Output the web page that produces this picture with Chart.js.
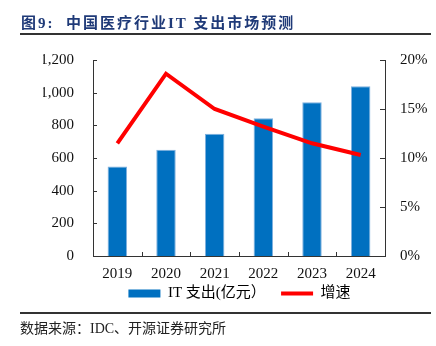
<!DOCTYPE html>
<html>
<head>
<meta charset="utf-8">
<script src="https://cdn.jsdelivr.net/npm/chart.js@4.4.1/dist/chart.umd.min.js"></script>
<style>
  body { margin: 0; background: #fff; }
  #wrap { position: relative; width: 436px; height: 346px; overflow: hidden; }
  #chart { position: absolute; left: 0; top: 0; }
  .title { position: absolute; left: 21px; top: 11px; font: bold 15px 'Liberation Serif', 'Noto Sans CJK SC'; color: #1F3A78; letter-spacing: 2px; white-space: nowrap; }
  .rule { position: absolute; left: 20px; width: 411px; background: #333; }
  .source { position: absolute; left: 20px; top: 317px; font: 14px 'Liberation Serif', 'Noto Sans CJK SC'; color: #222; white-space: nowrap; }
</style>
</head>
<body>
<div id="wrap">
  <canvas id="chart" width="436" height="346"></canvas>
  <div class="title">图9:&nbsp;&nbsp;中国医疗行业IT 支出市场预测</div>
  <div class="rule" style="top:33px;height:2px"></div>
  <div class="rule" style="top:312px;height:1.5px"></div>
  <div class="source">数据来源：IDC、开源证券研究所</div>
</div>
<script>
// data
const years = ['2019', '2020', '2021', '2022', '2023', '2024'];
const itSpend = [548, 650, 749, 843, 942, 1040];   // 亿元
const growth = [11.5, 18.6, 15.0, 13.2, 11.5, 10.3]; // %
const spendLabel = 'IT 支出(亿元）';
const growthLabel = '增速';

const serif = "'Liberation Serif', 'Noto Sans CJK SC'";

// small ticks pointing into the plot, like the original
const innerTicks = {
  id: 'innerTicks',
  afterDatasetsDraw(chart) {
    const { ctx, chartArea: a, scales: { x, y, y1 } } = chart;
    ctx.save();
    ctx.strokeStyle = '#333';
    ctx.lineWidth = 1;
    ctx.beginPath();
    y.ticks.forEach(t => {
      const py = Math.round(y.getPixelForValue(t.value)) + 0.5;
      ctx.moveTo(a.left, py); ctx.lineTo(a.left + 4, py);
    });
    y1.ticks.forEach(t => {
      const py = Math.round(y1.getPixelForValue(t.value)) + 0.5;
      ctx.moveTo(a.right, py); ctx.lineTo(a.right - 5, py);
    });
    for (let i = 1; i < years.length; i++) {
      const px = Math.round((x.getPixelForValue(i - 1) + x.getPixelForValue(i)) / 2) + 0.5;
      ctx.moveTo(px, a.bottom); ctx.lineTo(px, a.bottom - 4);
    }
    ctx.stroke();
    ctx.restore();
  }
};

new Chart(document.getElementById('chart'), {
  data: {
    labels: years,
    datasets: [
      {
        type: 'bar',
        label: spendLabel,
        data: itSpend,
        yAxisID: 'y',
        backgroundColor: '#0070C0',
        borderColor: '#7FB0DE',
        borderWidth: { top: 1, left: 1, right: 1, bottom: 0 },
        barPercentage: 0.4,
        categoryPercentage: 1,
        order: 2
      },
      {
        type: 'line',
        label: growthLabel,
        data: growth,
        yAxisID: 'y1',
        borderColor: '#FF0000',
        borderWidth: 4,
        pointRadius: 0,
        tension: 0,
        order: 1
      }
    ]
  },
  options: {
    responsive: false,
    animation: false,
    layout: { padding: { top: 60, left: 43, right: 0, bottom: 35 } },
    plugins: {
      tooltip: { enabled: false },
      legend: {
        position: 'bottom',
        labels: {
          usePointStyle: true,
          pointStyleWidth: 32,
          boxHeight: 8,
          padding: 4,
          color: '#111',
          font: { family: serif, size: 15 },
          generateLabels: () => [
            // trailing spaces widen the gap between the two items
            { text: spendLabel + '   ', pointStyle: 'rect', fillStyle: '#0070C0', strokeStyle: '#0070C0', lineWidth: 0, datasetIndex: 0 },
            { text: growthLabel, pointStyle: 'line', fillStyle: '#FF0000', strokeStyle: '#FF0000', lineWidth: 4, datasetIndex: 1 }
          ]
        }
      }
    },
    scales: {
      x: {
        grid: { display: false, drawTicks: false },
        border: { display: true, color: '#333', width: 1 },
        ticks: { color: '#111', padding: 9, font: { family: serif, size: 15 } },
        afterFit: s => { s.height = 26; }
      },
      y: {
        position: 'left',
        min: 0, max: 1200,
        grid: { display: false, drawTicks: false },
        border: { display: true, color: '#333', width: 1 },
        ticks: {
          stepSize: 200, color: '#111', padding: 19,
          font: { family: serif, size: 15 },
          callback: v => v.toLocaleString('en-US')
        },
        afterFit: s => { s.width = 50; }
      },
      y1: {
        position: 'right',
        min: 0, max: 20,
        grid: { display: false, drawTicks: false },
        border: { display: true, color: '#333', width: 1 },
        ticks: {
          stepSize: 5, color: '#111', padding: 15,
          font: { family: serif, size: 15 },
          callback: v => v + '%'
        },
        afterFit: s => { s.width = 51; }
      }
    }
  },
  plugins: [innerTicks]
});
</script>
</body>
</html>
